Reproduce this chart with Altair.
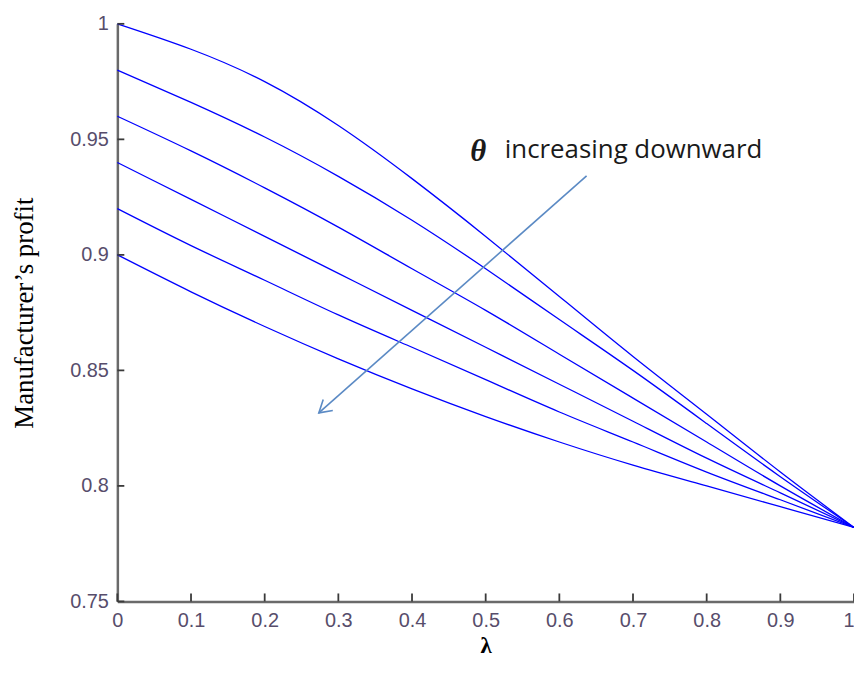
import altair as alt
import pandas as pd

# lambda grid
lam = [0.0, 0.1, 0.2, 0.3, 0.4, 0.5, 0.6, 0.7, 0.8, 0.9, 1.0]

# manufacturer's profit curves (theta increasing downward)
profit_1 = [1.000, 0.989, 0.975, 0.956, 0.933, 0.908, 0.882, 0.856, 0.831, 0.806, 0.782]
profit_2 = [0.980, 0.966, 0.951, 0.934, 0.915, 0.894, 0.872, 0.850, 0.827, 0.804, 0.782]
profit_3 = [0.960, 0.945, 0.929, 0.912, 0.894, 0.876, 0.857, 0.838, 0.819, 0.800, 0.782]
profit_4 = [0.940, 0.924, 0.908, 0.892, 0.876, 0.860, 0.844, 0.828, 0.812, 0.797, 0.782]
profit_5 = [0.920, 0.904, 0.889, 0.874, 0.860, 0.846, 0.832, 0.819, 0.806, 0.794, 0.782]
profit_6 = [0.900, 0.884, 0.869, 0.855, 0.842, 0.830, 0.819, 0.809, 0.800, 0.791, 0.782]

x_ticks = [0, 0.1, 0.2, 0.3, 0.4, 0.5, 0.6, 0.7, 0.8, 0.9, 1]
y_ticks = [0.75, 0.8, 0.85, 0.9, 0.95, 1]

# annotation (data coordinates)
theta_pos = [0.490, 0.9445]
note_pos = [0.526, 0.9452]
arrow_start = [0.637, 0.9342]
arrow_tip = [0.2735, 0.8316]

W, H = 741, 581

rows = []
for k, series in enumerate([profit_1, profit_2, profit_3, profit_4, profit_5, profit_6]):
    for x, y in zip(lam, series):
        rows.append({"lam": x, "profit": y, "curve": k})
df = pd.DataFrame(rows)

xs = alt.Scale(domain=[0, 1], nice=False, zero=False)
ys = alt.Scale(domain=[0.75, 1], nice=False, zero=False)

curves = alt.Chart(df).mark_line(color="#0000ff", strokeWidth=1.3, interpolate="natural").encode(
    x=alt.X("lam:Q", scale=xs,
            axis=alt.Axis(values=x_ticks, format="~g", ticks=False, grid=False,
                          domainColor="#6a6a6a", domainWidth=2.5,
                          labelFont="Liberation Sans", labelFontSize=20, labelColor="#574d6b",
                          labelPadding=9, labelFlush=False,
                          labelAlign={"expr": "datum.value == 1 ? 'right' : 'center'"},
                          title="λ", titleFont="Liberation Serif", titleFontSize=23,
                          titleFontWeight="bold", titleColor="#000000",
                          titleBaseline="alphabetic", titleY=51)),
    y=alt.Y("profit:Q", scale=ys,
            axis=alt.Axis(values=y_ticks, format="~g", ticks=False, grid=False,
                          domainColor="#6a6a6a", domainWidth=2.5,
                          labelFont="Liberation Sans", labelFontSize=20, labelColor="#574d6b",
                          labelPadding=9, labelFlush=False,
                          title="Manufacturer’s profit", titleFont="Liberation Serif",
                          titleFontSize=27, titleFontWeight="normal", titleColor="#000000",
                          titleBaseline="middle", titleX=-93, titleY=H / 2, titleAngle=-90)),
    detail="curve:N",
)

ytick_df = pd.DataFrame({"v": y_ticks})
xtick_df = pd.DataFrame({"v": x_ticks})

ytick_marks = alt.Chart(ytick_df).mark_rule(color="#3a3a3a", strokeWidth=1.8).encode(
    y=alt.Y("v:Q", scale=ys), x=alt.value(0), x2=alt.value(7))
xtick_marks = alt.Chart(xtick_df).mark_rule(color="#3a3a3a", strokeWidth=1.8).encode(
    x=alt.X("v:Q", scale=xs), y=alt.value(H), y2=alt.value(H - 8))

arrow_df = pd.DataFrame({"x": [arrow_start[0]], "y": [arrow_start[1]],
                         "x2": [arrow_tip[0]], "y2": [arrow_tip[1]]})
shaft = alt.Chart(arrow_df).mark_rule(color="#5b8ac4", strokeWidth=1.6).encode(
    x=alt.X("x:Q", scale=xs), y=alt.Y("y:Q", scale=ys), x2="x2:Q", y2="y2:Q")

head_df = pd.DataFrame({"x": [arrow_tip[0]], "y": [arrow_tip[1]]})
head = alt.Chart(head_df).mark_point(
    shape="M -0.6 1 L 0 0 L 0.6 1", filled=False, color="#5b8ac4",
    strokeWidth=1.6, size=600, angle=229, opacity=1).encode(
    x=alt.X("x:Q", scale=xs), y=alt.Y("y:Q", scale=ys))

theta_df = pd.DataFrame({"x": [theta_pos[0]], "y": [theta_pos[1]], "t": ["θ"]})
theta_txt = alt.Chart(theta_df).mark_text(
    font="Liberation Serif", fontSize=31, fontWeight="bold", fontStyle="italic",
    color="#1a1a1a", align="center", baseline="middle").encode(
    x=alt.X("x:Q", scale=xs), y=alt.Y("y:Q", scale=ys), text="t:N")

note_df = pd.DataFrame({"x": [note_pos[0]], "y": [note_pos[1]], "t": ["increasing downward"]})
note_txt = alt.Chart(note_df).mark_text(
    font="Open Sans", fontSize=26, color="#1a1a1a", align="left", baseline="middle").encode(
    x=alt.X("x:Q", scale=xs), y=alt.Y("y:Q", scale=ys), text="t:N")

chart = alt.layer(curves, ytick_marks, xtick_marks, shaft, head, theta_txt, note_txt).properties(
    width=W, height=H,
    autosize=alt.AutoSizeParams(type="none"),
    padding={"left": 110, "top": 14, "right": 0, "bottom": 57},
    background="#ffffff",
).configure_view(stroke=None)

chart.save("out.html", embed_options={"renderer": "svg", "actions": False})
